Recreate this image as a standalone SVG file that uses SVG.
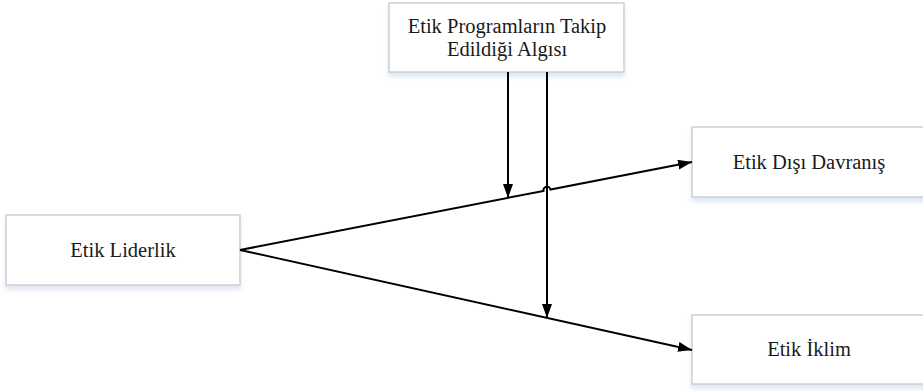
<svg xmlns="http://www.w3.org/2000/svg" width="923" height="392" viewBox="0 0 923 392">
<defs>
<filter id="sh" x="-10%" y="-20%" width="120%" height="150%">
<feDropShadow dx="0" dy="4" stdDeviation="2" flood-color="#9dbbe0" flood-opacity="0.35"/>
</filter>
<marker id="ah" viewBox="0 0 14 10" refX="14" refY="5" markerWidth="14" markerHeight="10" markerUnits="userSpaceOnUse" orient="auto">
<path d="M0,0 L14,5 L0,10 Z" fill="#000"/>
</marker>
<style>
.box{fill:#fff;stroke:#cfcfcf;stroke-width:1.5;filter:url(#sh)}
.t{font-family:"Liberation Serif","Times New Roman",serif;font-size:20.5px;fill:#1a1a1a;text-anchor:middle}
.c{fill:none;stroke:#000;stroke-width:2}
</style>
</defs>
<g id="program">
<rect class="box" x="389" y="3" width="235" height="69"/>
<text class="t" x="507" y="33">Etik Programların Takip</text>
<text class="t" x="507" y="56">Edildiği Algısı</text>
</g>
<g id="liderlik">
<rect class="box" x="6" y="215" width="234" height="70"/>
<text class="t" x="123" y="257">Etik Liderlik</text>
</g>
<g id="davranis">
<rect class="box" x="692" y="127" width="236" height="70"/>
<text class="t" x="809" y="169">Etik Dışı Davranış</text>
</g>
<g id="iklim">
<rect class="box" x="692" y="315" width="236" height="69"/>
<text class="t" x="809" y="356">Etik İklim</text>
</g>
<g id="connectors">
<path class="c" d="M240,250 L543.5,190.9 A3.5,3.5 0 0 1 550.5,189.5 L692,162" marker-end="url(#ah)"/>
<path class="c" d="M240,250 L692,350" marker-end="url(#ah)"/>
<path class="c" d="M508,72 L508,198" marker-end="url(#ah)"/>
<path class="c" d="M547,72 L547,318" marker-end="url(#ah)"/>
</g>
</svg>
